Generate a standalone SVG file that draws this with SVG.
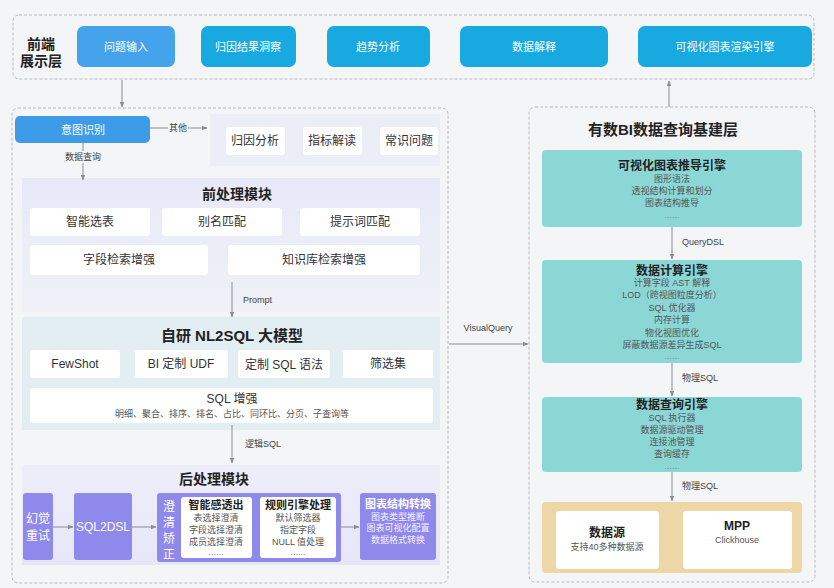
<svg xmlns="http://www.w3.org/2000/svg" width="834" height="588" viewBox="0 0 834 588">
<defs>
<style>
text{font-family:"Liberation Sans","Noto Sans CJK SC",sans-serif;dominant-baseline:central;}
.frame{fill:none;stroke:#b6bac3;stroke-width:1;stroke-dasharray:3 2;}
.btn{fill:#17a9df;}
.btnt{fill:#fff;font-size:11px;text-anchor:middle;}
.wb{fill:#fff;}
.t12{font-size:12px;fill:#333;text-anchor:middle;}
.ttl{font-size:14px;font-weight:bold;fill:#222;text-anchor:middle;}
.sub{font-size:9px;fill:#555;text-anchor:middle;}
.subw{font-size:9px;fill:#f2f2ff;text-anchor:middle;}
.dots{font-size:9px;fill:#888;text-anchor:middle;}
.conn{stroke:#8a8d93;stroke-width:1;fill:none;marker-end:url(#ah);}
.lbl{font-size:9px;fill:#444;}
.teal{fill:#8ad7d6;}
.purple{fill:#9089ec;}
.wt{fill:#fff;font-size:12px;text-anchor:middle;}
</style>
<marker id="ah" viewBox="0 0 10 10" refX="9" refY="5" markerWidth="6" markerHeight="6" orient="auto"><path d="M0,1 L10,5 L0,9 z" fill="#8a8d93"/></marker>
<linearGradient id="pre" x1="0" y1="0" x2="0" y2="1"><stop offset="0" stop-color="#e7e9f8"/><stop offset="1" stop-color="#eff1f6"/></linearGradient>
<linearGradient id="post" x1="0" y1="0" x2="0" y2="1"><stop offset="0" stop-color="#eeeefa"/><stop offset="1" stop-color="#e6e6f8"/></linearGradient>
</defs>
<rect x="0" y="0" width="834" height="588" fill="#f4f5f7"/>

<g id="frontend-layer">
<rect class="frame" x="13" y="15" width="801" height="64" rx="6"/>
<text x="41" y="44" font-size="14" font-weight="bold" fill="#222" text-anchor="middle">前端</text>
<text x="41" y="61" font-size="14" font-weight="bold" fill="#222" text-anchor="middle">展示层</text>
</g>
<g id="btn-question"><rect x="77" y="26" width="98" height="41" rx="7" fill="#45a3eb"/><text class="btnt" x="126" y="47">问题输入</text></g>
<g id="btn-attribution"><rect class="btn" x="201" y="26" width="95" height="41" rx="7"/><text class="btnt" x="248" y="47">归因结果洞察</text></g>
<g id="btn-trend"><rect class="btn" x="327" y="26" width="103" height="41" rx="7"/><text class="btnt" x="378" y="47">趋势分析</text></g>
<g id="btn-explain"><rect class="btn" x="460" y="26" width="148" height="41" rx="7"/><text class="btnt" x="534" y="47">数据解释</text></g>
<g id="btn-render"><rect class="btn" x="638" y="26" width="174" height="41" rx="7"/><text class="btnt" x="725" y="47">可视化图表渲染引擎</text></g>

<g id="left-layer">
<rect class="frame" x="12" y="108" width="436" height="475" rx="6"/>
</g>

<g id="intent"><rect x="15" y="116" width="135" height="27" rx="5" fill="#3d9be8"/><text class="btnt" x="83" y="130">意图识别</text></g>

<g id="other-panel">
<rect x="210" y="114" width="230" height="52" fill="#eceef7"/>
</g>
<g id="attr-analysis"><rect class="wb" x="226" y="127" width="59" height="28" rx="3"/><text class="t12" x="255" y="141">归因分析</text></g>
<g id="metric-read"><rect class="wb" x="303" y="127" width="59" height="28" rx="3"/><text class="t12" x="332" y="141">指标解读</text></g>
<g id="common-q"><rect class="wb" x="380" y="127" width="58" height="28" rx="3"/><text class="t12" x="409" y="141">常识问题</text></g>

<g id="pre-module">
<rect x="22" y="178" width="418" height="134" fill="url(#pre)"/>
<text class="ttl" x="237" y="194">前处理模块</text>
</g>
<g id="smart-table"><rect class="wb" x="30" y="208" width="120" height="28" rx="3"/><text class="t12" x="90" y="222">智能选表</text></g>
<g id="alias-match"><rect class="wb" x="162" y="208" width="120" height="28" rx="3"/><text class="t12" x="222" y="222">别名匹配</text></g>
<g id="prompt-match"><rect class="wb" x="300" y="208" width="120" height="28" rx="3"/><text class="t12" x="360" y="222">提示词匹配</text></g>
<g id="field-retrieval"><rect class="wb" x="30" y="245" width="178" height="30" rx="3"/><text class="t12" x="119" y="260">字段检索增强</text></g>
<g id="kb-retrieval"><rect class="wb" x="228" y="245" width="192" height="30" rx="3"/><text class="t12" x="324" y="260">知识库检索增强</text></g>

<g id="nl2sql-module">
<rect x="22" y="317" width="418" height="113" fill="#e3eef2"/>
<text x="232" y="335" font-size="15" font-weight="bold" fill="#222" text-anchor="middle">自研 NL2SQL 大模型</text>
</g>
<g id="fewshot"><rect class="wb" x="30" y="350" width="90" height="28" rx="3"/><text class="t12" x="75" y="364">FewShot</text></g>
<g id="bi-udf"><rect class="wb" x="135" y="350" width="93" height="28" rx="3"/><text class="t12" x="181" y="364">BI 定制 UDF</text></g>
<g id="sql-syntax"><rect class="wb" x="238" y="350" width="92" height="28" rx="3"/><text class="t12" x="284" y="365">定制 SQL 语法</text></g>
<g id="filter-set"><rect class="wb" x="343" y="350" width="90" height="28" rx="3"/><text class="t12" x="388" y="364">筛选集</text></g>
<g id="sql-enhance"><rect class="wb" x="30" y="388" width="403" height="35" rx="3"/><text class="t12" x="232" y="399">SQL 增强</text><text class="sub" x="232" y="414">明细、聚合、排序、排名、占比、同环比、分页、子查询等</text></g>

<g id="post-module">
<rect x="22" y="465" width="418" height="100" fill="url(#post)"/>
<text class="ttl" x="214" y="479">后处理模块</text>
</g>
<g id="hallucination"><rect class="purple" x="23" y="493" width="30" height="67" rx="3"/><text class="wt" x="38" y="519">幻觉</text><text class="wt" x="38" y="536">重试</text></g>
<g id="sql2dsl"><rect class="purple" x="74" y="493" width="58" height="67" rx="3"/><text class="wt" x="103" y="527">SQL2DSL</text></g>
<g id="clarify">
<rect class="purple" x="157" y="493" width="184" height="69" rx="3"/>
<text class="wt" x="169" y="507">澄</text><text class="wt" x="169" y="523">清</text><text class="wt" x="169" y="539">矫</text><text class="wt" x="169" y="555">正</text>
</g>
<g id="smart-out"><rect class="wb" x="181" y="497" width="71" height="61" rx="3"/><text x="216" y="505" font-size="11" font-weight="bold" fill="#222" text-anchor="middle">智能感透出</text><text class="sub" x="216" y="518">表选择澄清</text><text class="sub" x="216" y="530">字段选择澄清</text><text class="sub" x="216" y="542">成员选择澄清</text><text class="dots" x="216" y="552">......</text></g>
<g id="rule-engine"><rect class="wb" x="260" y="497" width="76" height="61" rx="3"/><text x="298" y="505" font-size="11" font-weight="bold" fill="#222" text-anchor="middle">规则引擎处理</text><text class="sub" x="298" y="518">默认筛选器</text><text class="sub" x="298" y="530">指定字段</text><text class="sub" x="298" y="542">NULL 值处理</text><text class="dots" x="298" y="552">......</text></g>
<g id="chart-convert"><rect class="purple" x="360" y="493" width="76" height="67" rx="3"/><text x="398" y="504" font-size="11" font-weight="bold" fill="#fff" text-anchor="middle">图表结构转换</text><text class="subw" x="398" y="517">图表类型推断</text><text class="subw" x="398" y="528">图表可视化配置</text><text class="subw" x="398" y="540">数据格式转换</text></g>

<g id="right-layer">
<rect class="frame" x="529" y="107" width="286" height="475" rx="6"/>
<text x="663" y="129" font-size="15" font-weight="bold" fill="#222" text-anchor="middle">有数BI数据查询基建层</text>
</g>
<g id="chart-derive"><rect class="teal" x="542" y="150" width="260" height="77" rx="4"/><text x="672" y="166" font-size="12" font-weight="bold" fill="#222" text-anchor="middle">可视化图表推导引擎</text><text class="sub" x="672" y="179">图形语法</text><text class="sub" x="672" y="191">透视结构计算和划分</text><text class="sub" x="672" y="203">图表结构推导</text><text class="dots" x="672" y="215">......</text></g>
<g id="compute-engine"><rect class="teal" x="542" y="260" width="260" height="103" rx="4"/><text x="672" y="271" font-size="12" font-weight="bold" fill="#222" text-anchor="middle">数据计算引擎</text><text class="sub" x="672" y="283">计算字段 AST 解释</text><text class="sub" x="672" y="295">LOD（跨视图粒度分析）</text><text class="sub" x="672" y="308">SQL 优化器</text><text class="sub" x="672" y="320">内存计算</text><text class="sub" x="672" y="333">物化视图优化</text><text class="sub" x="672" y="345">屏蔽数据源差异生成SQL</text><text class="dots" x="672" y="356">......</text></g>
<g id="query-engine"><rect class="teal" x="542" y="397" width="260" height="75" rx="4"/><text x="672" y="405" font-size="12" font-weight="bold" fill="#222" text-anchor="middle">数据查询引擎</text><text class="sub" x="672" y="418">SQL 执行器</text><text class="sub" x="672" y="430">数据源驱动管理</text><text class="sub" x="672" y="442">连接池管理</text><text class="sub" x="672" y="454">查询缓存</text><text class="dots" x="672" y="466">......</text></g>
<g id="storage"><rect x="542" y="502" width="260" height="71" rx="4" fill="#efd6a6"/></g>
<g id="datasource"><rect class="wb" x="556" y="511" width="103" height="58" rx="3"/><text x="607" y="533" font-size="12" font-weight="bold" fill="#222" text-anchor="middle">数据源</text><text class="sub" x="607" y="547">支持40多种数据源</text></g>
<g id="mpp"><rect class="wb" x="683" y="511" width="109" height="58" rx="3"/><text x="737" y="526" font-size="12" font-weight="bold" fill="#222" text-anchor="middle">MPP</text><text class="sub" x="737" y="540">Clickhouse</text></g>

<g id="connectors">
<line class="conn" x1="122" y1="80" x2="122" y2="107"/>
<line class="conn" x1="669" y1="107" x2="669" y2="81"/>
<line class="conn" x1="150" y1="128" x2="207" y2="128"/>
<rect x="168" y="122" width="20" height="12" fill="#f4f5f7"/>
<text class="lbl" x="178" y="128" text-anchor="middle">其他</text>
<line class="conn" x1="83" y1="143" x2="83" y2="180"/>
<rect x="64" y="151" width="38" height="12" fill="#f4f5f7"/>
<text class="lbl" x="83" y="157" text-anchor="middle">数据查询</text>
<line class="conn" x1="232" y1="282" x2="232" y2="317"/>
<text class="lbl" x="243" y="300">Prompt</text>
<line class="conn" x1="232" y1="425" x2="232" y2="463"/>
<text class="lbl" x="245" y="444">逻辑SQL</text>
<line class="conn" x1="53" y1="527" x2="73" y2="527"/>
<line class="conn" x1="132" y1="527" x2="156" y2="527"/>
<line class="conn" x1="341" y1="527" x2="359" y2="527"/>
<line class="conn" x1="449" y1="344" x2="528" y2="344"/>
<text class="lbl" x="488" y="328" text-anchor="middle">VisualQuery</text>
<line class="conn" x1="672" y1="227" x2="672" y2="259"/>
<text class="lbl" x="682" y="242">QueryDSL</text>
<line class="conn" x1="672" y1="363" x2="672" y2="396"/>
<text class="lbl" x="682" y="378">物理SQL</text>
<line class="conn" x1="672" y1="472" x2="672" y2="501"/>
<text class="lbl" x="682" y="486">物理SQL</text>
</g>
</svg>
